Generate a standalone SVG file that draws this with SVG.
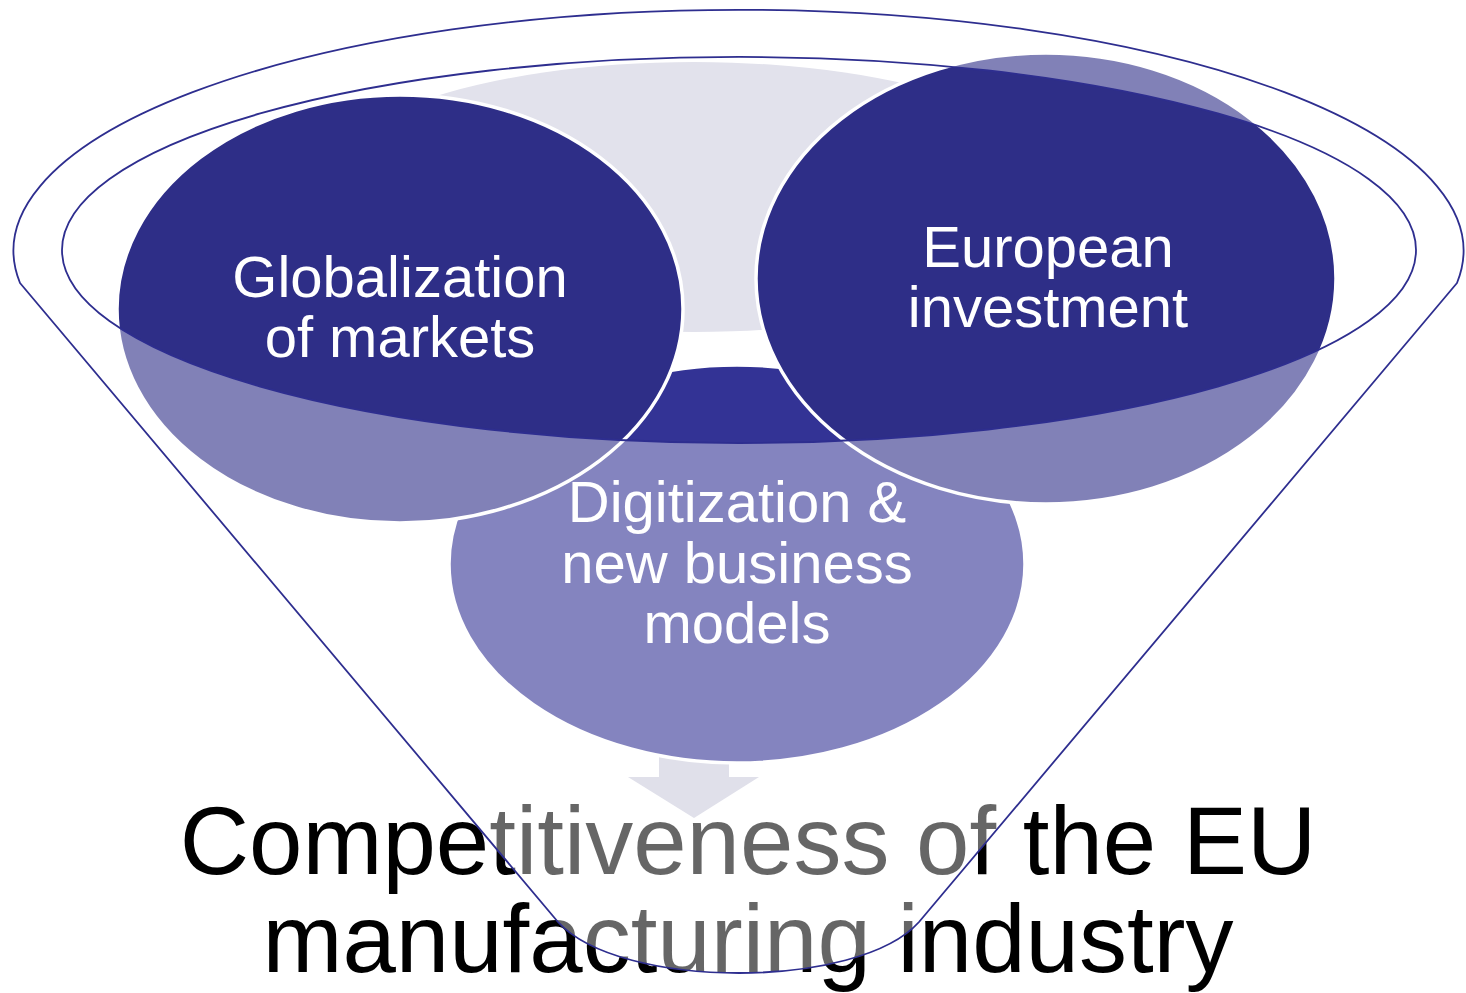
<svg xmlns="http://www.w3.org/2000/svg" width="1466" height="993" viewBox="0 0 1466 993">
  <style>
    .circ { stroke: #ffffff; stroke-width: 3.5; }
    .lbl { font-family: "Liberation Sans", Arial, sans-serif; font-size: 58px; fill: #ffffff; text-anchor: middle; }
    .res { font-family: "Liberation Sans", Arial, sans-serif; font-size: 96px; fill: #000000; text-anchor: middle; }
  </style>
  <rect width="1466" height="993" fill="#ffffff"/>
  <g id="backdrop">
    <ellipse cx="694" cy="197" rx="389" ry="135" fill="#e2e2ec"/>
  </g>
  <g id="connectors">
    <polygon points="659,745 729,745 729,777 759,777 694,818 628,777 659,777" fill="#cbcbdc"/>
  </g>
  <g id="node-digitization">
    <ellipse class="circ" cx="737" cy="564" rx="288" ry="199" fill="#333395"/>
    <text class="lbl" x="737" y="522">Digitization &amp;</text>
    <text class="lbl" x="737" y="583">new business</text>
    <text class="lbl" x="737" y="643">models</text>
  </g>
  <g id="node-globalization">
    <ellipse class="circ" cx="400" cy="309" rx="283" ry="214" fill="#2e2e87"/>
    <text class="lbl" x="400" y="297">Globalization</text>
    <text class="lbl" x="400" y="357">of markets</text>
  </g>
  <g id="node-european">
    <ellipse class="circ" cx="1046" cy="278.5" rx="290" ry="225.5" fill="#2e2e87"/>
    <text class="lbl" x="1048" y="267">European</text>
    <text class="lbl" x="1048" y="327">investment</text>
  </g>
  <g id="node-result">
    <text class="res" x="748" y="873.5">Competitiveness of the EU</text>
    <text class="res" x="748" y="972">manufacturing industry</text>
  </g>
  <g id="funnel">
    <path d="M20,283 A725 241 0 1 1 1457,283 L919,922 C858,990 620,990 558,922 Z M62,250 A677 193 0 1 0 1416,250 A677 193 0 1 0 62,250 Z" fill="#ffffff" fill-opacity="0.4" fill-rule="evenodd" stroke="#2e2e8f" stroke-width="1.8" stroke-linejoin="round"/>
  </g>
</svg>
